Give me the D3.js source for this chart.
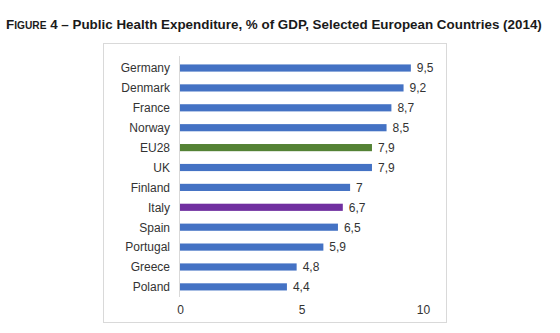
<!DOCTYPE html>
<html>
<head>
<meta charset="utf-8">
<script src="https://cdn.jsdelivr.net/npm/d3@7"></script>
<style>
	body { margin: 0; background: #fff; }
	svg { font-family: "Liberation Sans", Arial, sans-serif; }
</style>
</head>
<body>
<svg id="chart" width="560" height="333"></svg>
<script>
const countries = ["Germany", "Denmark", "France", "Norway", "EU28", "UK", "Finland", "Italy", "Spain", "Portugal", "Greece", "Poland"];
const values = [9.5, 9.2, 8.7, 8.5, 7.9, 7.9, 7, 6.7, 6.5, 5.9, 4.8, 4.4];
const xTicks = [0, 5, 10];

const colorOf = (name) => (name === "EU28" ? "#548235" : name === "Italy" ? "#7030a0" : "#4472c4");
const fmt = (v) => String(v).replace(".", ",");

let svg = d3.select("#chart");

// title with small caps "Figure"
let title = svg.append("text").attr("x", 6).attr("y", 29).attr("font-weight", "bold").attr("font-size", 13.4).attr("fill", "#1a1a1a");
title.append("tspan").text("F");
title.append("tspan").attr("font-size", 10.2).text("IGURE");
title.append("tspan").text(" 4 – Public Health Expenditure, % of GDP, Selected European Countries (2014)");

// chart frame
svg.append("rect").attr("x", 103.5).attr("y", 43.5).attr("width", 343).attr("height", 279).attr("fill", "none").attr("stroke", "#d9d9d9");

let x = d3.scaleLinear().domain([0, 10]).range([180, 423]);
let y = d3.scaleBand().domain(countries).range([51.7, 303.2]).padding(0.64);

// vertical axis line
svg.append("line").attr("x1", x(0) - 0.5).attr("x2", x(0) - 0.5).attr("y1", 56).attr("y2", 297).attr("stroke", "#d9d9d9");

svg
	.selectAll("rect.bar")
	.data(countries)
	.enter()
	.append("rect")
	.attr("class", "bar")
	.attr("x", x(0))
	.attr("y", (d) => y(d))
	.attr("height", y.bandwidth())
	.attr("width", (d, i) => x(values[i]) - x(0))
	.attr("fill", (d) => colorOf(d));

svg
	.selectAll("text.val")
	.data(countries)
	.enter()
	.append("text")
	.attr("class", "val")
	.attr("x", (d, i) => x(values[i]) + 6)
	.attr("y", (d) => y(d) + y.bandwidth() / 2)
	.attr("dy", "0.36em")
	.attr("font-size", 12)
	.attr("fill", "#333")
	.text((d, i) => fmt(values[i]));

svg
	.selectAll("text.cat")
	.data(countries)
	.enter()
	.append("text")
	.attr("class", "cat")
	.attr("x", x(0) - 10)
	.attr("y", (d) => y(d) + y.bandwidth() / 2)
	.attr("dy", "0.36em")
	.attr("text-anchor", "end")
	.attr("font-size", 12)
	.attr("fill", "#333")
	.text((d) => d);

let xAxis = d3.axisBottom(x).tickValues(xTicks).tickSize(0).tickPadding(0);
let gx = svg.append("g").attr("transform", "translate(0,305)").call(xAxis);
gx.select(".domain").remove();
gx.selectAll("text").attr("font-size", 12).attr("fill", "#333").attr("font-family", "Liberation Sans, Arial, sans-serif").attr("dy", "0.71em");
</script>
</body>
</html>
